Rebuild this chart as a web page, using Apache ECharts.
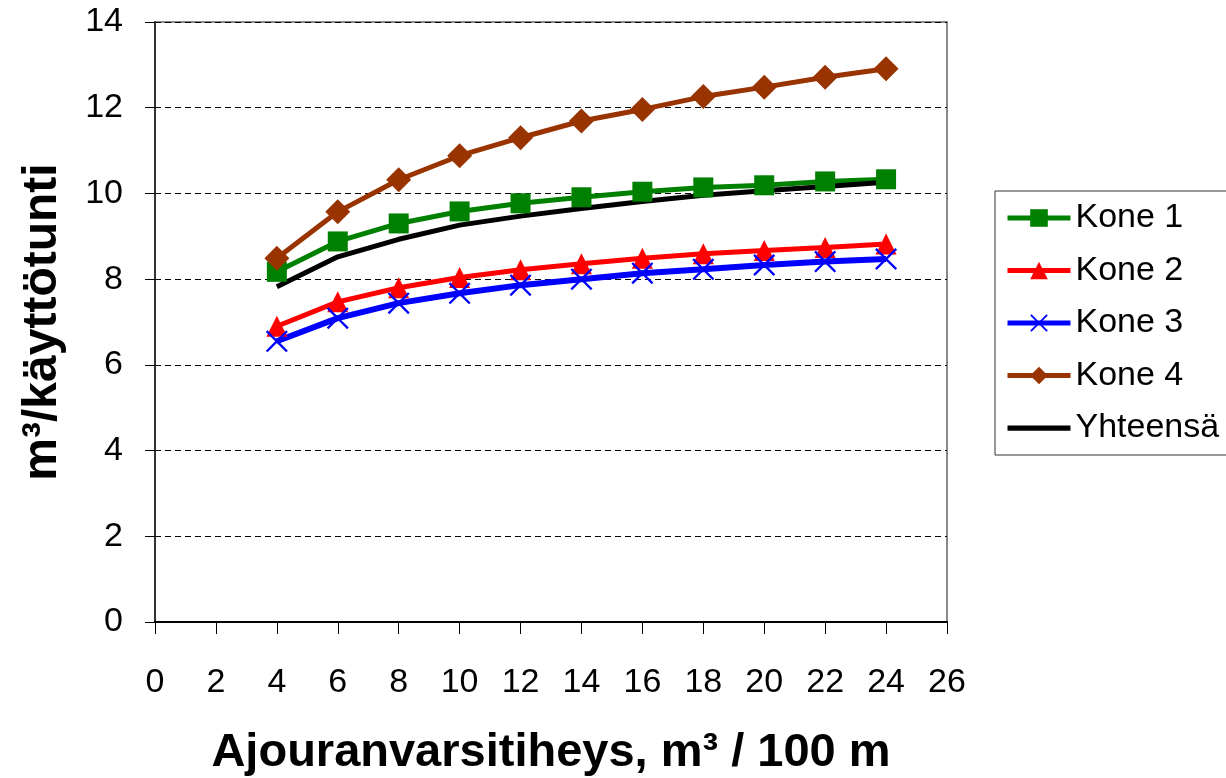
<!DOCTYPE html>
<html>
<head>
<meta charset="utf-8">
<script src="https://cdn.jsdelivr.net/npm/echarts@6/dist/echarts.min.js"></script>
<style>
  html, body { margin: 0; padding: 0; background: #fff; }
  #main { width: 1226px; height: 778px; }
</style>
</head>
<body>
<div id="main"></div>
<script>
// x-arvot: ajouranvarsitiheys
var xValues = [4, 6, 8, 10, 12, 14, 16, 18, 20, 22, 24];
var kone1 = [8.17, 8.88, 9.30, 9.58, 9.77, 9.91, 10.04, 10.14, 10.19, 10.28, 10.33];
var kone2 = [6.90, 7.47, 7.80, 8.04, 8.22, 8.36, 8.49, 8.59, 8.67, 8.74, 8.82];
var kone3 = [6.55, 7.09, 7.44, 7.67, 7.86, 8.00, 8.14, 8.23, 8.33, 8.41, 8.47];
var kone4 = [8.49, 9.57, 10.32, 10.88, 11.30, 11.69, 11.96, 12.26, 12.48, 12.71, 12.91];
var yhteensa = [7.82, 8.52, 8.93, 9.26, 9.47, 9.65, 9.81, 9.96, 10.06, 10.16, 10.26];

function pairs(ys) {
    return xValues.map(function (x, i) { return [x, ys[i]]; });
}

var crossPath = 'path://M0,1.5L1.5,0L10,8.5L18.5,0L20,1.5L11.5,10L20,18.5L18.5,20L10,11.5L1.5,20L0,18.5L8.5,10Z';
var lineIcon = 'path://M0,0H60V5H0Z';
var font = 'Arial, "Liberation Sans", sans-serif';

var myChart = echarts.init(document.getElementById('main'));

var option = {
    backgroundColor: '#fff',
    animation: false,
    textStyle: { fontFamily: font },
    grid: {
        left: 155, top: 22, right: 279, bottom: 156,
        outerBoundsMode: 'none',
        containLabel: false,
        show: true, borderColor: '#888', borderWidth: 2
    },
    legend: {
        orient: 'vertical',
        left: 995, top: 191,
        padding: [10, 40, 10, 10],
        itemWidth: 63, itemHeight: 22,
        itemGap: 18.5,
        borderColor: '#333', borderWidth: 1,
        lineStyle: { width: 5 },
        textStyle: { fontSize: 34, color: '#000', fontFamily: font },
        data: ['Kone 1', 'Kone 2', 'Kone 3', 'Kone 4', { name: 'Yhteensä', icon: lineIcon }]
    },
    xAxis: {
        type: 'value',
        min: 0, max: 26, interval: 2,
        name: 'Ajouranvarsitiheys, m³ / 100 m',
        nameLocation: 'middle',
        nameGap: 108,
        nameTextStyle: { fontSize: 47, fontWeight: 'bold', color: '#000', fontFamily: font },
        axisLine: { lineStyle: { color: '#000', width: 2 } },
        axisTick: { length: 12, lineStyle: { color: '#000', width: 1 } },
        axisLabel: { fontSize: 34, color: '#000', margin: 44 },
        splitLine: { show: false }
    },
    yAxis: {
        type: 'value',
        min: 0, max: 14, interval: 2,
        name: 'm³/käyttötunti',
        nameLocation: 'middle',
        nameGap: 88,
        nameTextStyle: { fontSize: 48, fontWeight: 'bold', color: '#000', fontFamily: font },
        axisLine: { lineStyle: { color: '#333', width: 2 } },
        axisTick: { length: 10, lineStyle: { color: '#000', width: 1 } },
        axisLabel: { fontSize: 34, color: '#000', margin: 32 },
        splitLine: { show: true, lineStyle: { color: '#000', type: [6, 4], width: 1 } }
    },
    series: [
        {
            name: 'Kone 1', type: 'line', data: pairs(kone1),
            symbol: 'rect', symbolSize: 20,
            lineStyle: { color: '#008000', width: 5 },
            itemStyle: { color: '#008000' }
        },
        {
            name: 'Kone 2', type: 'line', data: pairs(kone2),
            symbol: 'triangle', symbolSize: 21,
            lineStyle: { color: '#ff0000', width: 5 },
            itemStyle: { color: '#ff0000' }
        },
        {
            name: 'Kone 3', type: 'line', data: pairs(kone3),
            symbol: crossPath, symbolSize: 22,
            lineStyle: { color: '#0000ff', width: 6 },
            itemStyle: { color: '#0000ff' }
        },
        {
            name: 'Kone 4', type: 'line', data: pairs(kone4),
            symbol: 'diamond', symbolSize: 25,
            lineStyle: { color: '#993300', width: 5 },
            itemStyle: { color: '#993300' }
        },
        {
            name: 'Yhteensä', type: 'line', data: pairs(yhteensa),
            symbol: 'none', showSymbol: false,
            lineStyle: { color: '#000', width: 5 },
            itemStyle: { color: '#000' }
        }
    ]
};
myChart.setOption(option);
</script>
</body>
</html>
